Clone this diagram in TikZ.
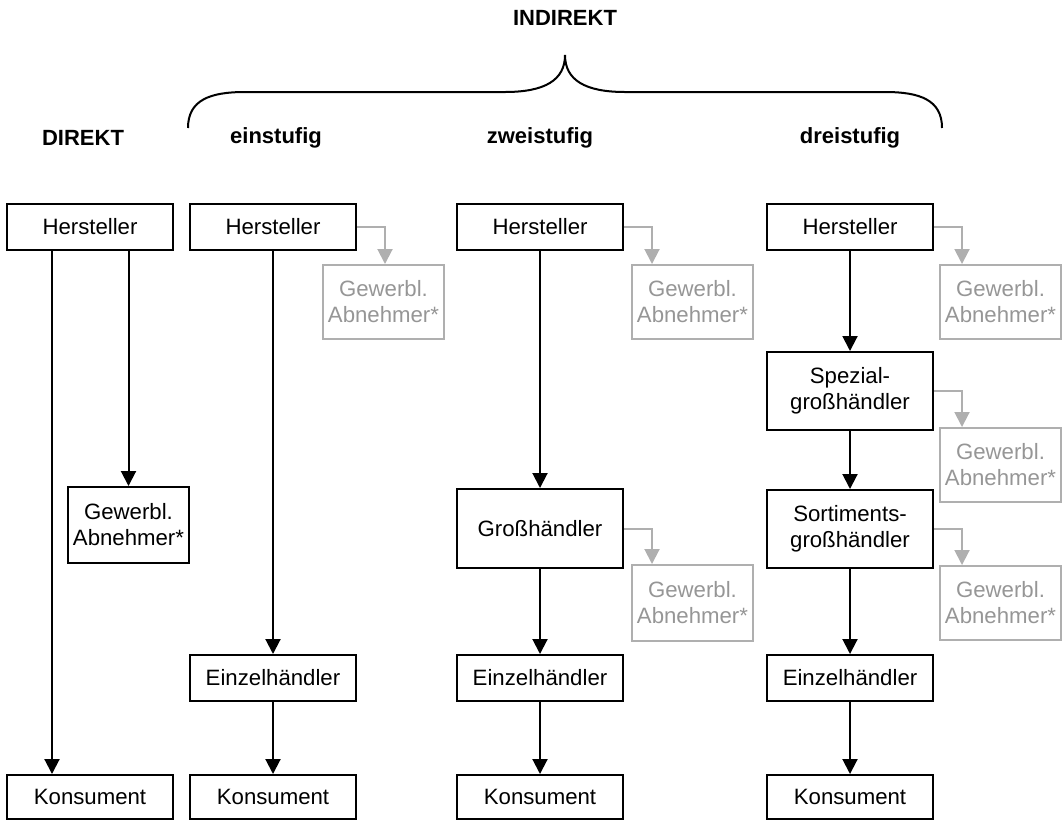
\documentclass[tikz,border=0pt]{standalone}
\usepackage{fontspec}
\setmainfont{Liberation Sans}
\usetikzlibrary{arrows.meta}

\definecolor{linegray}{RGB}{175,175,175}
\definecolor{textgray}{RGB}{150,150,150}

\tikzset{
    stufe/.style={draw, line width=1pt, inner sep=0pt, minimum width=83pt, minimum height=23pt, align=center},
    abnehmer/.style={draw=linegray, text=textgray, line width=1pt, inner sep=0pt, minimum width=60.5pt, minimum height=37pt, align=center},
    kopf/.style={font=\fontsize{11}{13}\selectfont\bfseries},
    pfeil/.style={line width=1pt, -{Triangle[length=7.5pt, width=7.5pt]}},
    grpfeil/.style={pfeil, draw=linegray}
}

\begin{document}
\begin{tikzpicture}[x=0.5pt, y=-0.5pt, font=\fontsize{11.1}{13}\selectfont]
    \useasboundingbox (0,0) rectangle (1063,820);

    % headers
    \node[kopf] (indirekt) at (565,18) {INDIREKT};
    \node[kopf] (direkt) at (83,138) {DIREKT};
    \node[kopf] (einst) at (276,138) {einstufig};
    \node[kopf] (zweist) at (540,138) {zweistufig};
    \node[kopf] (dreist) at (850,138) {dreistufig};
    \draw[line width=1pt] (188,128) .. controls (188,100) and (210,92) .. (245,92) -- (505,92)
        .. controls (545,92) and (565,80) .. (565,55)
        .. controls (565,80) and (585,92) .. (625,92) -- (885,92)
        .. controls (920,92) and (942,100) .. (942,128);

    % direkt
    \node[stufe] (h0) at (90,226.5) {Hersteller};
    \node[stufe, minimum width=60.5pt, minimum height=38pt] (g0) at (128.5,525) {Gewerbl.\\Abnehmer*};
    \node[stufe, minimum height=22pt] (k0) at (90,797) {Konsument};
    \draw[pfeil] ([xshift=-19pt]h0.south) -- ([xshift=-19pt]k0.north);
    \draw[pfeil] (g0.north |- h0.south) -- (g0.north);

    % einstufig
    \node[stufe] (h1) at (273,226.5) {Hersteller};
    \node[abnehmer] (g1) at (383.5,302) {Gewerbl.\\Abnehmer*};
    \node[stufe] (e1) at (273,678) {Einzelhändler};
    \node[stufe, minimum height=22pt] (k1) at (273,797) {Konsument};
    \draw[grpfeil] (h1.east) -| ([xshift=14pt]h1.east |- g1.north);
    \draw[pfeil] (h1) -- (e1);
    \draw[pfeil] (e1) -- (k1);

    % zweistufig
    \node[stufe] (h2) at (540,226.5) {Hersteller};
    \node[abnehmer] (g2a) at (692.5,302) {Gewerbl.\\Abnehmer*};
    \node[stufe, minimum height=39.5pt] (gh2) at (540,528.5) {Großhändler};
    \node[abnehmer, minimum height=38pt] (g2b) at (692.5,603) {Gewerbl.\\Abnehmer*};
    \node[stufe] (e2) at (540,678) {Einzelhändler};
    \node[stufe, minimum height=22pt] (k2) at (540,797) {Konsument};
    \draw[grpfeil] (h2.east) -| ([xshift=14pt]h2.east |- g2a.north);
    \draw[grpfeil] (gh2.east) -| ([xshift=14pt]gh2.east |- g2b.north);
    \draw[pfeil] (h2) -- (gh2);
    \draw[pfeil] (gh2) -- (e2);
    \draw[pfeil] (e2) -- (k2);

    % dreistufig
    \node[stufe] (h3) at (850,226.5) {Hersteller};
    \node[abnehmer] (g3a) at (1000.5,302) {Gewerbl.\\Abnehmer*};
    \node[stufe, minimum height=39pt] (sp3) at (850,391) {Spezial-\\großhändler};
    \node[abnehmer] (g3b) at (1000.5,465) {Gewerbl.\\Abnehmer*};
    \node[stufe, minimum height=39pt] (so3) at (850,529) {Sortiments-\\großhändler};
    \node[abnehmer] (g3c) at (1000.5,603) {Gewerbl.\\Abnehmer*};
    \node[stufe] (e3) at (850,678) {Einzelhändler};
    \node[stufe, minimum height=22pt] (k3) at (850,797) {Konsument};
    \draw[grpfeil] (h3.east) -| ([xshift=14pt]h3.east |- g3a.north);
    \draw[grpfeil] (sp3.east) -| ([xshift=14pt]sp3.east |- g3b.north);
    \draw[grpfeil] (so3.east) -| ([xshift=14pt]so3.east |- g3c.north);
    \draw[pfeil] (h3) -- (sp3);
    \draw[pfeil] (sp3) -- (so3);
    \draw[pfeil] (so3) -- (e3);
    \draw[pfeil] (e3) -- (k3);
\end{tikzpicture}
\end{document}
